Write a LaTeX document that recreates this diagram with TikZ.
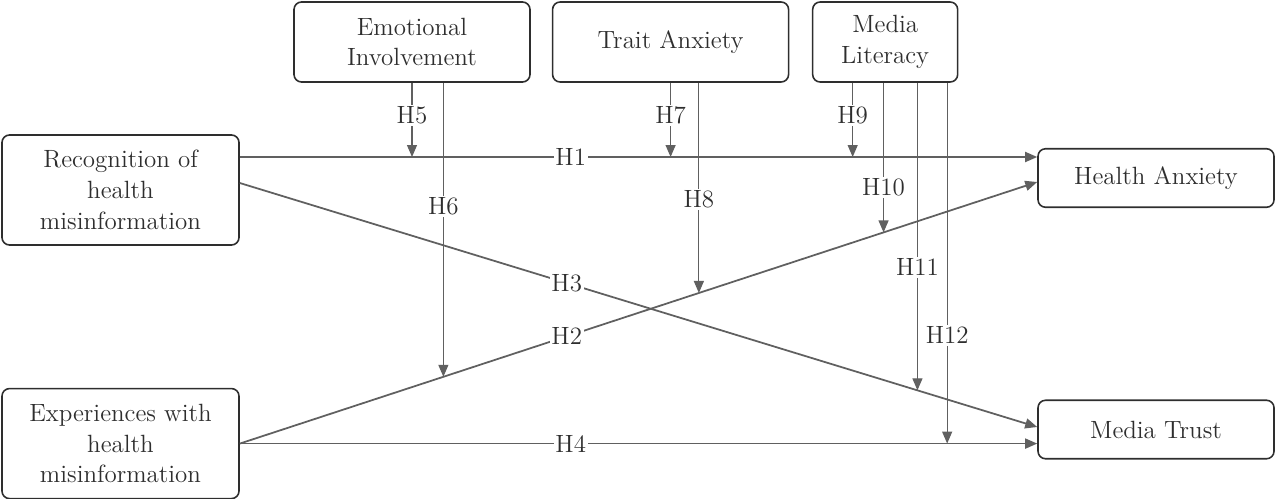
\documentclass[tikz,border=0pt]{standalone}
\usepackage{xcolor}
\usepackage{tikz}
\usetikzlibrary{positioning,arrows.meta,calc}
\definecolor{linegray}{HTML}{606060}
\definecolor{boxgray}{HTML}{2E2E2E}

\begin{document}
\begin{tikzpicture}[
    font=\fontsize{14.2}{17.5}\selectfont,
    text=boxgray,
    box/.style={draw=boxgray, line width=0.9pt, rounded corners=1.5mm, align=center, minimum width=47.4mm, minimum height=22mm},
    moder/.style={box, minimum width=47.2mm, minimum height=16mm},
    outcome/.style={box, minimum width=47.2mm, minimum height=11.7mm},
    arrow/.style={-{Triangle[length=2.4mm,width=2mm]}, draw=linegray, line width=1pt},
    modarrow/.style={arrow, line width=0.7pt},
    hyp/.style={fill=white, inner sep=1pt, text=boxgray}
]
\useasboundingbox (0,0) rectangle (25.5,-9.96);

% predictors
\node[box] (rec) at (2.41,-3.8) {Recognition of\\health\\misinformation};
\node[box, below=2.84cm of rec] (exp) {Experiences with\\health\\misinformation};

% moderators
\node[moder] (emo) at (8.24,-0.84) {Emotional\\Involvement};
\node[moder, right=4.2mm of emo] (trait) {Trait Anxiety};
\node[moder, minimum width=29mm, right=4.5mm of trait] (lit) {Media\\Literacy};

% outcomes
\node[outcome] (ha) at (23.12,-3.56) {Health Anxiety};
\node[outcome] (mt) at (23.12,-8.59) {Media Trust};

% end points of the main paths
\coordinate (r1) at ([yshift=6.6mm]rec.east);
\coordinate (r3) at ([yshift=1.4mm]rec.east);
\coordinate (m3) at ([yshift=0.5mm]mt.west);
\coordinate (e2) at (exp.east);
\coordinate (h2) at ([yshift=-0.8mm]ha.west);

\draw[arrow] (r1) -- (r1 -| ha.west) node[hyp, pos=0.415] {H1};
\draw[arrow] (e2) -- (h2) node[hyp, pos=0.41] {H2};
\draw[arrow] (r3) -- (m3) node[hyp, pos=0.41] {H3};
\draw[arrow] (e2) -- (e2 -| mt.west) node[hyp, pos=0.415] {H4};

% points where moderators meet the sloped paths
\coordinate (p6) at ($(e2)!0.2553!(h2)$);
\coordinate (p8) at ($(e2)!0.5757!(h2)$);
\coordinate (p10) at ($(e2)!0.8073!(h2)$);
\coordinate (p11) at ($(r3)!0.8498!(m3)$);
\coordinate (l9) at ([xshift=-6.5mm]lit.south);
\coordinate (l12) at ([xshift=12.4mm]lit.south);

\draw[modarrow] (emo.south) -- (emo.south |- r1) node[hyp, pos=0.44] {H5};
\draw[modarrow] (p6 |- emo.south) -- (p6) node[hyp, pos=0.42] {H6};
\draw[modarrow] (trait.south) -- (trait.south |- r1) node[hyp, pos=0.44] {H7};
\draw[modarrow] (p8 |- trait.south) -- (p8) node[hyp, pos=0.555] {H8};
\draw[modarrow] (l9) -- (l9 |- r1) node[hyp, pos=0.44] {H9};
\draw[modarrow] (p10 |- lit.south) -- (p10) node[hyp, pos=0.70] {H10};
\draw[modarrow] (p11 |- lit.south) -- (p11) node[hyp, pos=0.60] {H11};
\draw[modarrow] (l12) -- (l12 |- e2) node[hyp, pos=0.70] {H12};
\end{tikzpicture}
\end{document}
